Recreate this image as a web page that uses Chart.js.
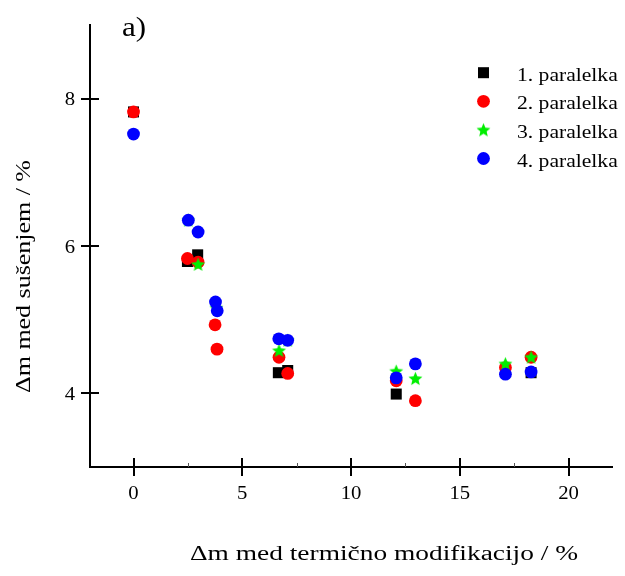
<!DOCTYPE html>
<html>
<head>
<meta charset="utf-8">
<script src="https://cdn.jsdelivr.net/npm/chart.js@4.4.0/dist/chart.umd.min.js"></script>
<style>
  html, body { margin: 0; padding: 0; background: #fff; }
  #wrap { width: 625px; height: 576px; }
</style>
</head>
<body>
<div id="wrap"><canvas id="chart" width="625" height="576"></canvas></div>
<script>
// Series: mass loss during drying vs mass loss during thermal modification
const seriesNames = ['1. paralelka', '2. paralelka', '3. paralelka', '4. paralelka'];

const x1 = [0, 2.48, 2.95, 6.66, 7.09, 12.08, 18.28];
const y1 = [7.82, 5.79, 5.88, 4.28, 4.31, 3.99, 4.28];

const x2 = [0, 2.48, 2.97, 3.75, 3.84, 6.69, 7.09, 12.08, 12.96, 17.1, 18.28];
const y2 = [7.82, 5.83, 5.78, 4.93, 4.60, 4.49, 4.27, 4.17, 3.90, 4.35, 4.49];

const x3 = [2.52, 2.97, 3.81, 6.69, 7.09, 12.08, 12.96, 17.1, 18.28];
const y3 = [6.35, 5.75, 5.16, 4.58, 4.72, 4.30, 4.20, 4.40, 4.49];

const x4 = [0, 2.52, 2.97, 3.77, 3.85, 6.68, 7.09, 12.08, 12.96, 17.1, 18.28];
const y4 = [7.52, 6.35, 6.19, 5.24, 5.12, 4.74, 4.72, 4.21, 4.40, 4.26, 4.29];

const xTicks = [0, 5, 10, 15, 20];
const yTicks = [4, 6, 8];
const xMinor = [2.5, 7.5, 12.5, 17.5];

const xTitle = 'Δm med termično modifikacijo / %';
const yTitle = 'Δm med sušenjem / %';
const panelLabel = 'a)';

const colors = ['#000000', '#ff0000', '#00ee00', '#0000ff'];
const FONT = '"Liberation Serif", "Times New Roman", serif';

function pairs(xs, ys) {
  return xs.map((x, i) => ({ x: x, y: ys[i] }));
}

// filled five-point star used as point style
function makeStar(r, color) {
  const c = document.createElement('canvas');
  const s = Math.ceil(r * 2) + 2;
  c.width = s; c.height = s;
  const g = c.getContext('2d');
  g.fillStyle = color;
  g.beginPath();
  for (let i = 0; i < 10; i++) {
    const rad = i % 2 ? r * 0.45 : r;
    const a = -Math.PI / 2 + i * Math.PI / 5;
    g.lineTo(s / 2 + rad * Math.cos(a), s / 2 + rad * Math.sin(a) + 0.5);
  }
  g.closePath();
  g.fill();
  return c;
}
const starImg = makeStar(7.3, colors[2]);
const starLegend = makeStar(7.3, colors[2]);

// slightly widened serif text
function drawText(ctx, str, x, y, size, sx, align, rot) {
  ctx.save();
  ctx.translate(x, y);
  if (rot) ctx.rotate(rot);
  ctx.scale(sx, 1);
  ctx.font = size + 'px ' + FONT;
  ctx.textAlign = align;
  ctx.textBaseline = 'alphabetic';
  ctx.fillStyle = '#000';
  ctx.fillText(str, 0, 0);
  ctx.restore();
}

function fitText(ctx, str, cx, cy, size, width, rot) {
  ctx.save();
  ctx.font = size + 'px ' + FONT;
  const w = ctx.measureText(str).width;
  ctx.restore();
  drawText(ctx, str, cx, cy, size, width / w, 'center', rot);
}

const decorations = {
  id: 'decorations',
  afterDraw(chart) {
    const ctx = chart.ctx;
    const xs = chart.scales.x, ys = chart.scales.y;
    const area = chart.chartArea;
    ctx.save();
    ctx.strokeStyle = '#000';
    ctx.lineWidth = 2;
    // inner halves of the major ticks
    xTicks.forEach(v => {
      const px = Math.round(xs.getPixelForValue(v));
      ctx.beginPath(); ctx.moveTo(px, area.bottom); ctx.lineTo(px, area.bottom - 9); ctx.stroke();
    });
    yTicks.forEach(v => {
      const py = Math.round(ys.getPixelForValue(v));
      ctx.beginPath(); ctx.moveTo(area.left, py); ctx.lineTo(area.left + 9, py); ctx.stroke();
    });
    ctx.lineWidth = 1;
    ctx.strokeStyle = '#555';
    xMinor.forEach(v => {
      const px = Math.round(xs.getPixelForValue(v)) + 0.5;
      ctx.beginPath(); ctx.moveTo(px, area.bottom); ctx.lineTo(px, area.bottom - 4); ctx.stroke();
    });
    ctx.restore();

    // tick labels
    xTicks.forEach(v => {
      drawText(ctx, String(v), xs.getPixelForValue(v), area.bottom + 32, 18, 1.15, 'center');
    });
    yTicks.forEach(v => {
      drawText(ctx, String(v), area.left - 15, ys.getPixelForValue(v) + 6.5, 18, 1.15, 'right');
    });

    // axis titles
    fitText(ctx, xTitle, 384, 560, 20, 388);
    fitText(ctx, yTitle, 30, 276.5, 20, 233, -Math.PI / 2);

    // panel label
    drawText(ctx, panelLabel, 122, 36, 27, 1.15, 'left');

    // legend
    const lx = 483.5, ly0 = 72.7, step = 28.6;
    seriesNames.forEach((name, i) => {
      const cy = ly0 + i * step;
      ctx.save();
      ctx.fillStyle = colors[i];
      if (i === 0) {
        ctx.fillRect(lx - 5.5, cy - 5.5, 11, 11);
      } else if (i === 2) {
        ctx.drawImage(starLegend, lx - starLegend.width / 2, cy - starLegend.height / 2);
      } else {
        ctx.beginPath(); ctx.arc(lx, cy, 6.4, 0, Math.PI * 2); ctx.fill();
      }
      ctx.restore();
      drawText(ctx, name, 517, cy + 8, 18, 1.2, 'left');
    });
  }
};

const circle = (i, order, data) => ({
  label: seriesNames[i],
  data: data,
  order: order,
  pointStyle: 'circle',
  pointRadius: 6.4,
  pointHoverRadius: 6.4,
  pointBorderWidth: 0,
  backgroundColor: colors[i],
  borderColor: colors[i]
});

new Chart(document.getElementById('chart'), {
  type: 'scatter',
  data: {
    datasets: [
      {
        label: seriesNames[0],
        data: pairs(x1, y1),
        order: 4,
        pointStyle: 'rect',
        pointRadius: 7.8,
        pointHoverRadius: 7.8,
        pointBorderWidth: 0,
        backgroundColor: colors[0],
        borderColor: colors[0]
      },
      circle(1, 3, pairs(x2, y2)),
      {
        label: seriesNames[2],
        data: pairs(x3, y3),
        order: 2,
        pointStyle: starImg,
        pointRadius: 7,
        backgroundColor: colors[2],
        borderColor: colors[2]
      },
      circle(3, 1, pairs(x4, y4))
    ]
  },
  options: {
    responsive: false,
    animation: false,
    events: [],
    layout: { padding: { left: 0, right: 13, top: 25, bottom: 0 } },
    plugins: { legend: { display: false }, tooltip: { enabled: false } },
    scales: {
      x: {
        type: 'linear',
        min: -2, max: 22,
        afterBuildTicks: s => { s.ticks = xTicks.map(v => ({ value: v })); },
        afterFit: s => { s.height = 109; },
        ticks: { display: false },
        grid: { drawOnChartArea: false, drawTicks: true, tickLength: 9, lineWidth: 2, color: '#000' },
        border: { display: true, color: '#000', width: 2 }
      },
      y: {
        type: 'linear',
        min: 3, max: 9,
        afterBuildTicks: s => { s.ticks = yTicks.map(v => ({ value: v })); },
        afterFit: s => { s.width = 90; },
        ticks: { display: false },
        grid: { drawOnChartArea: false, drawTicks: true, tickLength: 9, lineWidth: 2, color: '#000' },
        border: { display: true, color: '#000', width: 2 }
      }
    }
  },
  plugins: [decorations]
});
</script>
</body>
</html>
